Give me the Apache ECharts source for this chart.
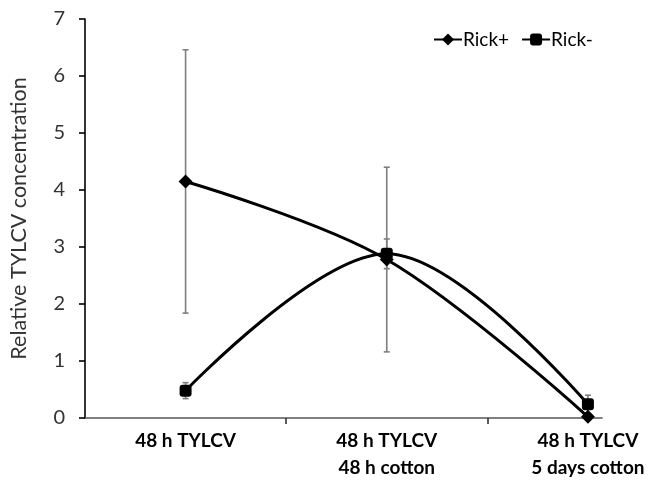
<!DOCTYPE html>
<html>
<head>
<meta charset="utf-8">
<script src="https://cdn.jsdelivr.net/npm/echarts@6/dist/echarts.min.js"></script>
<style>html,body{margin:0;padding:0;background:#fff}#c{width:671px;height:483px}</style>
</head>
<body>
<div id="c"></div>
<script>
var categories = ['48 h TYLCV', '48 h TYLCV\n48 h cotton', '48 h TYLCV\n5 days cotton'];
var rickPlus = [4.15, 2.78, 0.02];
var rickPlusErr = [2.31, 1.62, 0.0];
var rickMinus = [0.48, 2.88, 0.24];
var rickMinusErr = [0.14, 0.26, 0.16];
var yTicks = [0, 1, 2, 3, 4, 5, 6, 7];

function pts(vals) { return vals.map(function (v, i) { return [i, v]; }); }
function errs(vals, e) { return vals.map(function (v, i) { return [i, v - e[i], v + e[i]]; }); }

function errRender(params, api) {
  var x = api.value(0);
  var lo = api.coord([x, api.value(1)]);
  var hi = api.coord([x, api.value(2)]);
  var w = 3;
  var st = { stroke: '#7f7f7f', lineWidth: 1.6 };
  return {
    type: 'group',
    children: [
      { type: 'line', shape: { x1: lo[0], y1: lo[1], x2: hi[0], y2: hi[1] }, style: st },
      { type: 'line', shape: { x1: lo[0] - w, y1: lo[1], x2: lo[0] + w, y2: lo[1] }, style: st },
      { type: 'line', shape: { x1: hi[0] - w, y1: hi[1], x2: hi[0] + w, y2: hi[1] }, style: st }
    ]
  };
}

var chart = echarts.init(document.getElementById('c'), null, { renderer: 'canvas' });
chart.setOption({
  animation: false,
  backgroundColor: '#fff',
  textStyle: { fontFamily: 'Lato' },
  grid: { left: 84, top: 19, width: 518, height: 399, containLabel: false },
  legend: {
    left: 428, top: 25,
    itemWidth: 28, itemHeight: 15, itemGap: 12,
    textStyle: { fontFamily: 'Lato', fontSize: 19, color: '#000', padding: [0, 0, 0, -4] },
    data: ['Rick+', 'Rick-']
  },
  xAxis: {
    type: 'value', min: -0.5, max: 2.07, interval: 1,
    splitLine: { show: false },
    axisLine: { show: true, onZero: false, lineStyle: { color: '#555', width: 1.6 } },
    axisTick: { show: true, length: 6, customValues: [0.5, 1.5], lineStyle: { color: '#333', width: 1.6 } },
    axisLabel: {
      customValues: [0, 1, 2],
      margin: 9,
      fontFamily: 'Lato', fontWeight: 'bold', fontSize: 19, lineHeight: 27, color: '#000',
      formatter: function (v) { return categories[Math.round(v)]; }
    }
  },
  yAxis: {
    type: 'value', min: 0, max: 7, interval: 1,
    splitLine: { show: false },
    axisLine: { show: true, onZero: false, lineStyle: { color: '#000', width: 1.6 } },
    axisTick: { show: true, length: 6, lineStyle: { color: '#000', width: 1.6 } },
    axisLabel: {
      customValues: yTicks,
      margin: 20, fontFamily: 'Lato', fontSize: 20, color: '#333'
    },
    name: 'Relative TYLCV concentration',
    nameLocation: 'middle', nameGap: 55, nameRotate: 90,
    nameTextStyle: { fontFamily: 'Lato', fontSize: 21.5, color: '#333' }
  },
  series: [
    {
      type: 'custom', name: 'errPlus', renderItem: errRender,
      data: errs(rickPlus, rickPlusErr), encode: { x: 0, y: [1, 2] }, z: 1, silent: true
    },
    {
      type: 'custom', name: 'errMinus', renderItem: errRender,
      data: errs(rickMinus, rickMinusErr), encode: { x: 0, y: [1, 2] }, z: 1, silent: true
    },
    {
      name: 'Rick+', type: 'line', smooth: 0.35, data: pts(rickPlus),
      symbol: 'diamond', symbolSize: 14, showAllSymbol: true,
      lineStyle: { color: '#000', width: 3 },
      itemStyle: { color: '#000', borderColor: '#000', borderWidth: 0 }, z: 3
    },
    {
      name: 'Rick-', type: 'line', smooth: 0.35, data: pts(rickMinus),
      symbol: 'roundRect', symbolSize: 12, showAllSymbol: true,
      lineStyle: { color: '#000', width: 3 },
      itemStyle: { color: '#000', borderColor: '#000', borderWidth: 0 }, z: 3
    }
  ]
});
</script>
</body>
</html>
